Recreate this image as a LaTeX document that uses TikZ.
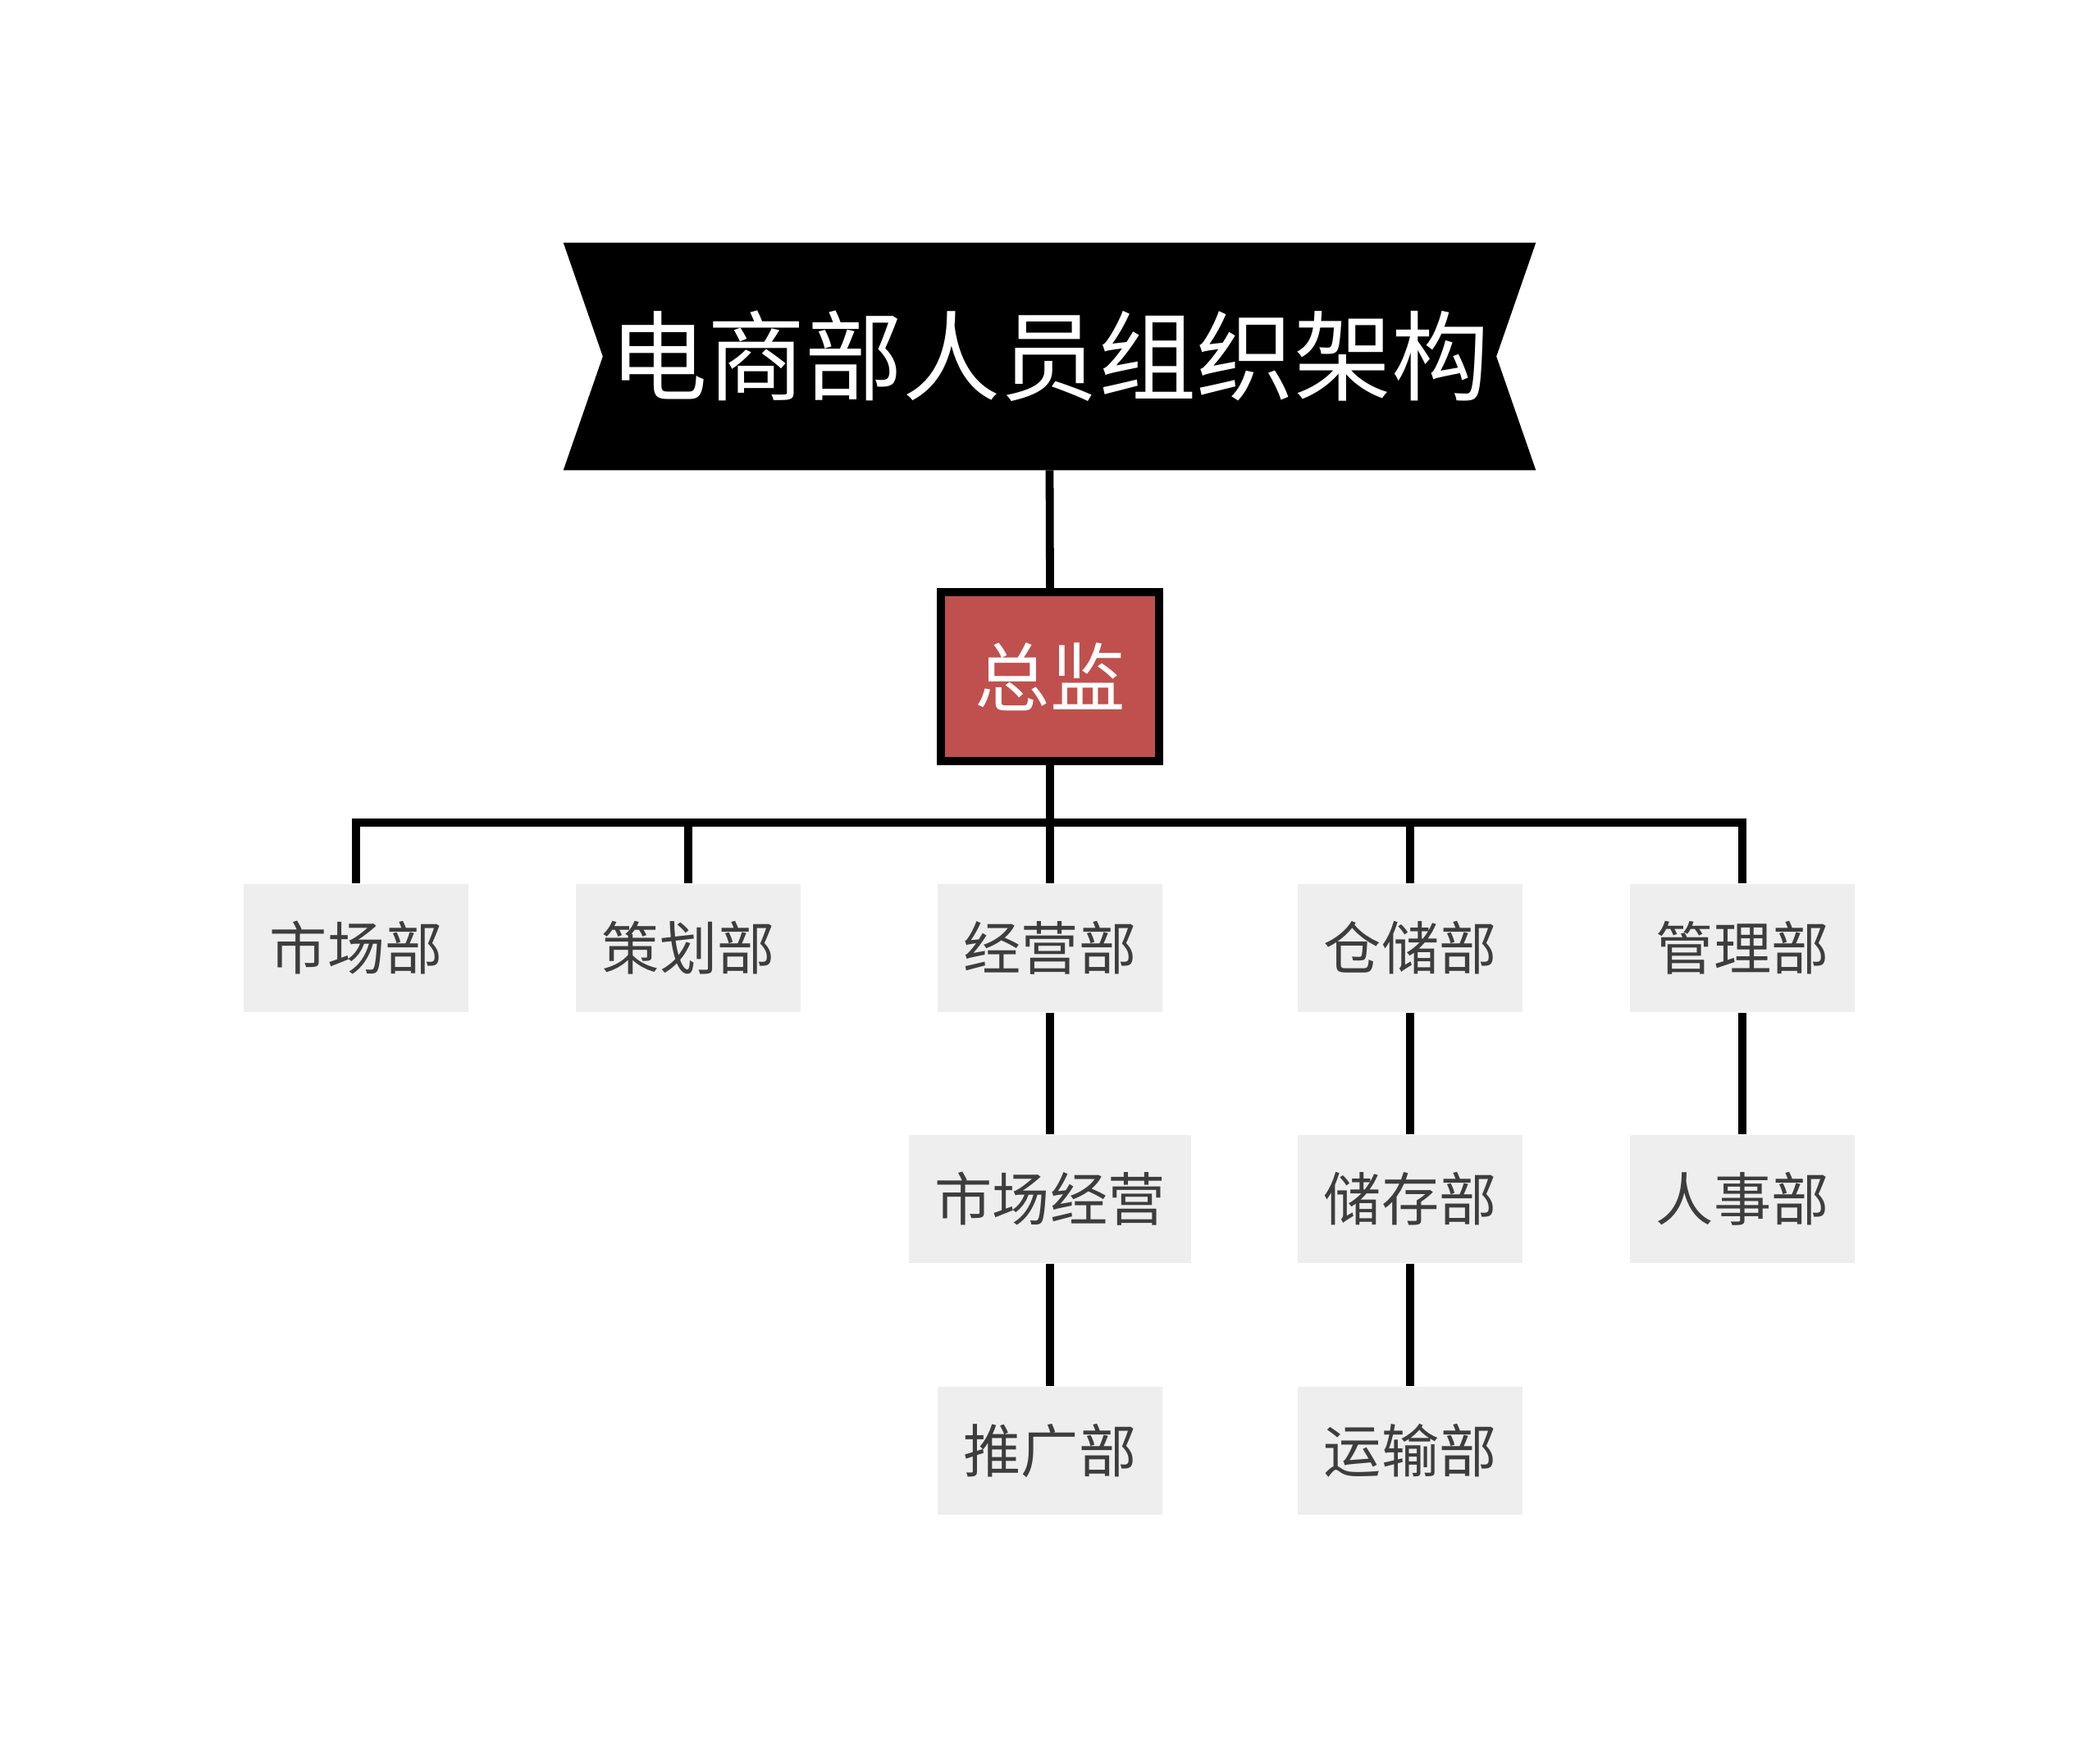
\documentclass[tikz,border=0pt]{standalone}
\usepackage{fontspec}
\setmainfont{Noto Sans CJK SC}
\usetikzlibrary{backgrounds}
\definecolor{bossred}{HTML}{C0504D}
\definecolor{deptgray}{HTML}{EEEEEE}
\definecolor{depttext}{HTML}{3D3D3D}
\tikzset{
  link/.style={line width=6pt, draw=black, line join=miter},
  dept/.style={fill=deptgray, text=depttext, minimum width=168pt, minimum height=96pt, inner sep=0pt, font=\fontsize{43}{50}\selectfont},
  boss/.style={fill=bossred, draw=black, line width=6pt, text=white, minimum width=163pt, minimum height=126.5pt, inner sep=0pt, font=\fontsize{56}{64}\selectfont},
  banner/.style={text=white, minimum width=725.8pt, minimum height=169.7pt, inner sep=0pt, font=\fontsize{73}{84}\selectfont}
}
\begin{document}
\begin{tikzpicture}[x=1pt,y=-1pt]
\useasboundingbox (0,0) rectangle (1568,1314);
% title banner
\node[banner] (title) at (783.7,266.2) {电商部人员组织架构};
\begin{scope}[on background layer]
\fill[white] (0,0) rectangle (1568,1314);
\fill[black] (title.north west) -- (title.north east) -- ([xshift=-29.5pt]title.east) -- (title.south east) -- (title.south west) -- ([xshift=29.5pt]title.west) -- cycle;
\end{scope}
% director
\node[boss] (zj) at (784,505.3) {总监};
% departments
\node[dept] (d1) at (266,708) {市场部};
\node[dept] (d2) at (514,708) {策划部};
\node[dept] (d3) at (784,708) {经营部};
\node[dept] (d4) at (1053,708) {仓储部};
\node[dept] (d5) at (1301,708) {管理部};
\node[dept, minimum width=211pt] (e3) at (784,895.5) {市场经营};
\node[dept] (e4) at (1053,895.5) {储存部};
\node[dept] (e5) at (1301,895.5) {人事部};
\node[dept] (f3) at (784,1083.5) {推广部};
\node[dept] (f4) at (1053,1083.5) {运输部};
% connectors
\coordinate (bus) at (784,614.4);
\draw[link] (title.south) -- (zj.north);
\draw[link] (zj.south) -- (bus);
\foreach \c in {d1,d2,d3,d4,d5}{
  \draw[link] (bus) -| (\c.north);
}
\draw[link] (d3.south) -- (e3.north);
\draw[link] (e3.south) -- (f3.north);
\draw[link] (d4.south) -- (e4.north);
\draw[link] (e4.south) -- (f4.north);
\draw[link] (d5.south) -- (e5.north);
\end{tikzpicture}
\end{document}
